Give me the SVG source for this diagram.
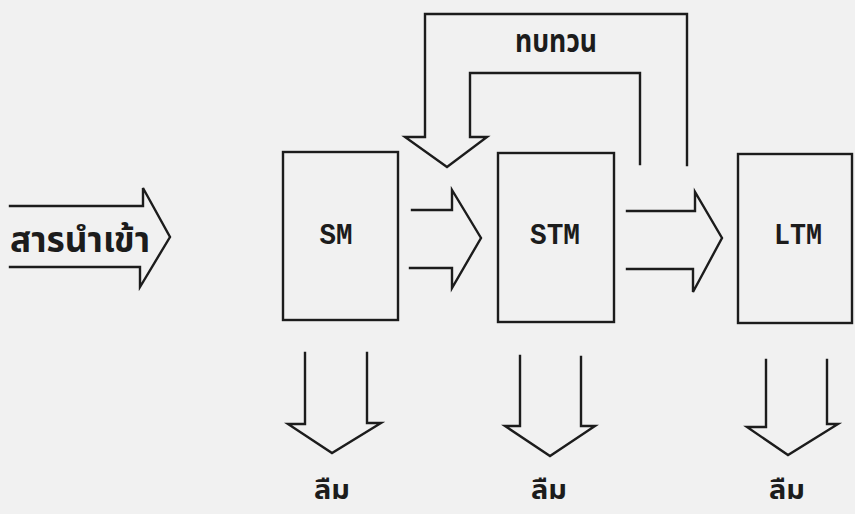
<svg xmlns="http://www.w3.org/2000/svg" width="855" height="514" viewBox="0 0 855 514">
<style>
.ln{fill:none;stroke:#1c1c1c;stroke-width:2.4;stroke-linejoin:miter;stroke-linecap:square}
.bx{fill:none;stroke:#1c1c1c;stroke-width:2.4}
.lab{font-family:"Liberation Mono","DejaVu Sans Mono",monospace;font-weight:bold;font-size:29px;fill:#1c1c1c;text-anchor:middle}
.th{font-family:"Noto Sans Thai","Noto Sans","DejaVu Sans",sans-serif;font-weight:bold;fill:#1c1c1c;text-anchor:middle}
</style>
<rect width="855" height="514" fill="#f1f1f1"/>
<g id="input">
<polyline class="ln" points="10,206 143,206 143,188 170,237 140,287 140,267 10,267"/>
<text class="th" x="80" y="252" font-size="35" textLength="140" lengthAdjust="spacingAndGlyphs">สารนำเข้า</text>
</g>
<g id="SM">
<rect class="bx" x="283" y="152" width="115" height="168"/>
<text class="lab" x="336" y="244" textLength="33" lengthAdjust="spacingAndGlyphs">SM</text>
</g>
<g id="STM">
<rect class="bx" x="498" y="153" width="116" height="169"/>
<text class="lab" x="555" y="244" textLength="50" lengthAdjust="spacingAndGlyphs">STM</text>
</g>
<g id="LTM">
<rect class="bx" x="738" y="154" width="114" height="169"/>
<text class="lab" x="798" y="244" textLength="48" lengthAdjust="spacingAndGlyphs">LTM</text>
</g>
<g id="connectors">
<polyline class="ln" points="412,210 452,210 452,190 481,238 452,288 452,268 410,268"/>
<polyline class="ln" points="627,211 695,211 695,192 722,238 693,292 693,269 627,269"/>
<polyline class="ln" points="687,165 687,14 425,14 425,137 405,137 447,167 487,137 470,137 470,73 640,73 640,164"/>
<polyline class="ln" points="305,353 305,424 288,424 332,453 381,423 367,423 367,353"/>
<polyline class="ln" points="520,356 520,426 505,426 550,456 595,426 581,426 581,357"/>
<polyline class="ln" points="766,360 766,427 747,427 788,455 838,424 827,424 827,360"/>
</g>
<g id="labels">
<text class="th" x="556" y="52" font-size="31" textLength="82" lengthAdjust="spacingAndGlyphs">ทบทวน</text>
<text class="th" x="332" y="499" font-size="26" textLength="36" lengthAdjust="spacingAndGlyphs">ลืม</text>
<text class="th" x="549" y="499" font-size="26" textLength="36" lengthAdjust="spacingAndGlyphs">ลืม</text>
<text class="th" x="787" y="499" font-size="26" textLength="36" lengthAdjust="spacingAndGlyphs">ลืม</text>
</g>
</svg>
